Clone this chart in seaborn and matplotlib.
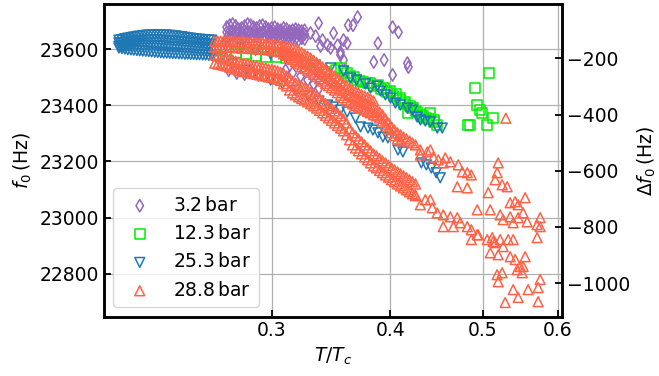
import matplotlib
matplotlib.use('Agg')
import matplotlib.pyplot as plt
import seaborn as sns
from matplotlib.ticker import FormatStrFormatter, NullLocator

# reference frequency for the right-hand axis (Delta f0 = f0 - F_REF)
F_REF = 23767

labels = ['3.2$\\,$bar', '12.3$\\,$bar', '25.3$\\,$bar', '28.8$\\,$bar']
x_ticks = [0.3, 0.4, 0.5, 0.6]
y_ticks = [22800, 23000, 23200, 23400, 23600]
dy_ticks = [-1000, -800, -600, -400, -200]

# T/Tc sample positions shared by the dense bands
t_low = [0.2073, 0.2088, 0.2103, 0.2118, 0.2134, 0.2149, 0.2165, 0.2180, 0.2196, 0.2212, 0.2228,
         0.2244, 0.2261, 0.2277, 0.2294, 0.2310, 0.2327, 0.2344, 0.2361, 0.2378, 0.2396, 0.2413,
         0.2431, 0.2448, 0.2466, 0.2484, 0.2502, 0.2520, 0.2539, 0.2557, 0.2576, 0.2594]
t_mid = [0.2614, 0.2633, 0.2652, 0.2671, 0.2691, 0.2710, 0.2730, 0.2750, 0.2770, 0.2790, 0.2810,
         0.2831, 0.2851, 0.2872, 0.2893, 0.2914, 0.2935, 0.2957, 0.2978, 0.3000, 0.3022, 0.3044,
         0.3066, 0.3088, 0.3111, 0.3133, 0.3156, 0.3179, 0.3202, 0.3226, 0.3249, 0.3273, 0.3297,
         0.3321, 0.3345, 0.3369, 0.3394, 0.3418, 0.3443, 0.3468, 0.3494, 0.3519, 0.3545, 0.3570,
         0.3596, 0.3623, 0.3649, 0.3676, 0.3702, 0.3729, 0.3757, 0.3784, 0.3811, 0.3839, 0.3867,
         0.3895, 0.3923, 0.3952, 0.3981, 0.4010, 0.4039, 0.4068, 0.4098, 0.4128, 0.4158, 0.4188,
         0.4218, 0.4249]
t_purple = t_mid[4:31]

# ---- 3.2 bar (diamonds) ----
purple_band_a = [23678, 23685, 23689, 23682, 23671, 23675, 23682, 23689, 23685, 23678, 23675, 23682, 23685, 23678,
                 23671, 23675, 23678, 23671, 23667, 23675, 23671, 23664, 23667, 23671, 23667, 23664, 23667]
purple_band_b = [23660, 23664, 23667, 23660, 23657, 23660, 23664, 23660, 23657, 23664, 23660, 23657, 23660, 23664,
                 23657, 23660, 23657, 23660, 23657, 23660, 23653, 23657, 23653, 23657, 23653, 23650, 23653]
purple_band_c = [23639, 23643, 23646, 23643, 23639, 23643, 23646, 23643, 23639, 23643, 23646, 23643, 23639, 23643,
                 23646, 23639, 23643, 23646, 23639, 23643, 23639, 23643, 23639, 23636, 23632, 23639, 23636]
purple_extra_x = [0.2704, 0.2757, 0.2810, 0.2864, 0.3103, 0.3156, 0.3218, 0.3273, 0.3321, 0.3364,
                  0.3296, 0.3337, 0.3361, 0.3393, 0.3435, 0.3377, 0.3460, 0.3519, 0.3485, 0.3544, 0.3544, 0.3570,
                  0.3611, 0.3653, 0.3694, 0.3570, 0.3602, 0.3880, 0.3841, 0.3939, 0.4020, 0.4078, 0.4020, 0.4167, 0.4177]
purple_extra_f = [23525, 23515, 23511, 23515, 23525, 23515, 23504, 23490, 23476, 23461,
                  23657, 23646, 23692, 23632, 23614, 23611, 23604, 23614, 23657, 23589, 23579, 23561,
                  23685, 23685, 23714, 23632, 23621, 23621, 23554, 23561, 23678, 23660, 23508, 23550, 23536]

# ---- 12.3 bar (squares) ----
green_x = [0.2620, 0.2684, 0.2750, 0.2817, 0.2886, 0.2957, 0.3029, 0.3103, 0.3179, 0.3257, 0.3337, 0.3418,
           0.3502, 0.3570, 0.3631, 0.3684, 0.3742, 0.3810, 0.3880, 0.3939, 0.4000, 0.4058, 0.4097, 0.4147,
           0.4197, 0.4228, 0.4177, 0.4268, 0.4310, 0.4362, 0.4405, 0.4448, 0.4479,
           0.3545, 0.3600, 0.3660, 0.3720, 0.3784, 0.3840, 0.3910, 0.3970, 0.4030, 0.4090, 0.4130, 0.4200,
           0.4250, 0.4330, 0.4390, 0.4440,
           0.5080, 0.4910, 0.4934, 0.4970, 0.4994, 0.5129, 0.4852, 0.4828, 0.5055]
green_f = [23596, 23593, 23586, 23582, 23575, 23572, 23572, 23568, 23561, 23547, 23533, 23518,
           23525, 23522, 23504, 23490, 23483, 23479, 23472, 23461, 23451, 23440, 23426, 23412,
           23398, 23390, 23373, 23376, 23366, 23355, 23373, 23348, 23330,
           23532, 23515, 23500, 23486, 23478, 23470, 23458, 23447, 23433, 23418, 23405, 23392,
           23380, 23362, 23350, 23340,
           23515, 23461, 23401, 23383, 23373, 23355, 23330, 23330, 23330]

# ---- 25.3 bar (down triangles) ----
blue_band_a = [23632, 23634, 23637, 23639, 23641, 23643, 23645, 23646, 23648, 23649, 23650, 23650, 23650, 23651,
               23650, 23650, 23650, 23649, 23648, 23647, 23645, 23644, 23642, 23640, 23639, 23637, 23636, 23635,
               23634, 23633, 23632, 23632]
blue_band_b = [23622, 23623, 23625, 23626, 23627, 23628, 23629, 23630, 23631, 23632, 23632, 23632, 23632, 23632,
               23631, 23631, 23630, 23630, 23629, 23628, 23627, 23626, 23625, 23624, 23623, 23622, 23621, 23620,
               23619, 23618, 23617, 23616]
blue_band_c = [23610, 23610, 23611, 23612, 23612, 23613, 23613, 23613, 23613, 23613, 23612, 23612, 23612, 23611,
               23611, 23610, 23609, 23608, 23607, 23606, 23606, 23605, 23604, 23603, 23602, 23601, 23600, 23599,
               23598, 23597, 23596, 23595]
blue_band_d = [23604, 23602, 23600, 23598, 23597, 23596, 23595, 23594, 23593, 23592, 23591, 23590, 23589, 23588,
               23587, 23586, 23586, 23585, 23584, 23584, 23583, 23583, 23582, 23582, 23581, 23581, 23580, 23580,
               23579, 23579, 23578, 23578]
blue_branch_x = [0.2684, 0.2783, 0.2886, 0.2993, 0.3103, 0.3218, 0.3337, 0.3460, 0.3570, 0.3631, 0.3684, 0.3765,
                 0.3810, 0.3875, 0.3904, 0.3951, 0.4000, 0.4048, 0.4097, 0.4167, 0.4217, 0.4268, 0.4300, 0.4352,
                 0.4405, 0.4479, 0.4534,
                 0.2652, 0.2728, 0.2817, 0.2907, 0.2993, 0.3081, 0.3179, 0.3280, 0.3364, 0.3435, 0.3485, 0.3544,
                 0.3602, 0.3675, 0.3720, 0.3788, 0.3834, 0.3880, 0.3927, 0.3975, 0.4073, 0.4122, 0.4310, 0.4362,
                 0.4415, 0.4468, 0.4512]
blue_branch_f = [23611, 23604, 23596, 23582, 23568, 23554, 23543, 23533, 23522, 23497, 23490, 23476,
                 23461, 23468, 23451, 23437, 23426, 23408, 23401, 23390, 23383, 23358, 23348, 23344,
                 23341, 23319, 23319,
                 23568, 23547, 23525, 23504, 23490, 23476, 23454, 23433, 23415, 23401, 23394, 23383,
                 23376, 23355, 23323, 23319, 23312, 23302, 23287, 23284, 23241, 23234, 23195, 23188,
                 23177, 23160, 23142]

# ---- 28.8 bar (up triangles) ----
red_upper_a = [23628, 23628, 23628, 23628, 23628, 23628, 23628, 23627, 23626, 23626, 23625, 23625, 23624, 23623,
               23622, 23622, 23621, 23620, 23618, 23617, 23616, 23615, 23611, 23611, 23609, 23605, 23602, 23598,
               23593, 23588, 23581, 23575, 23568, 23560, 23552, 23544, 23536, 23528, 23520, 23512, 23504, 23495,
               23485, 23476, 23469, 23460, 23454, 23449, 23444, 23438, 23433, 23428, 23422, 23416]
red_upper_b = [23607, 23607, 23607, 23607, 23607, 23607, 23607, 23605, 23605, 23604, 23604, 23604, 23602, 23602,
               23601, 23600, 23600, 23599, 23597, 23595, 23594, 23593, 23590, 23583, 23577, 23570, 23563, 23555,
               23547, 23538, 23531, 23525, 23518, 23510, 23502, 23494, 23486, 23478, 23470, 23462, 23454, 23445,
               23436, 23427, 23419, 23411, 23405, 23399, 23394, 23389, 23383, 23378, 23373, 23366]
red_upper_c = [23597, 23593, 23588, 23582, 23577, 23570, 23563, 23556, 23550, 23543, 23535, 23527, 23519, 23511,
               23503, 23495, 23487, 23479, 23470, 23460, 23452, 23444, 23436, 23430, 23424, 23419, 23414, 23408,
               23403, 23398, 23391]
red_upper_tail = [23383, 23376, 23366, 23351, 23337, 23323, 23312, 23302, 23295, 23287, 23280, 23273, 23266, 23259]
red_upper_tail2 = [23362, 23355, 23344, 23330, 23316, 23302, 23291, 23280, 23273]
red_lower_a = [23579, 23575, 23573, 23572, 23568, 23564, 23561, 23557, 23554, 23550, 23548, 23547, 23543, 23541,
               23540, 23536, 23534, 23533, 23529, 23527, 23525, 23522, 23517, 23513, 23504, 23497, 23486, 23479,
               23472, 23467, 23461, 23454, 23447, 23440, 23433, 23424, 23415, 23406, 23398, 23389, 23380, 23371,
               23362, 23351, 23337, 23316, 23302, 23291, 23280, 23270, 23259, 23248, 23238, 23227, 23220, 23211,
               23202, 23195, 23186, 23177, 23170, 23163, 23156, 23149, 23142, 23135, 23128, 23120]
red_lower_b = [23550, 23547, 23545, 23543, 23540, 23536, 23533, 23529, 23525, 23522, 23520, 23518, 23515, 23513,
               23511, 23508, 23506, 23504, 23501, 23499, 23497, 23493, 23488, 23477, 23469, 23454, 23444, 23437,
               23430, 23424, 23419, 23412, 23405, 23398, 23390, 23382, 23373, 23364, 23355, 23346, 23337, 23328,
               23319, 23309, 23295, 23277, 23259, 23248, 23238, 23227, 23216, 23206, 23195, 23184, 23177, 23168,
               23160, 23152, 23144, 23135, 23128, 23120, 23113, 23106, 23099, 23092, 23085, 23078]
red_extra_x = [0.4300, 0.4373, 0.4437, 0.4490, 0.4545, 0.4623, 0.4713, 0.4759, 0.4817, 0.4864, 0.4702, 0.4817,
               0.4405, 0.4300, 0.4567,
               0.4300, 0.4405, 0.4426, 0.4479, 0.4545, 0.4623, 0.4702, 0.4736, 0.4817, 0.4864, 0.4946, 0.4545,
               0.4657, 0.4864, 0.4934, 0.4248, 0.4352,
               0.5288, 0.4934, 0.5067, 0.5092, 0.5153, 0.5178, 0.5191, 0.5241, 0.5305, 0.5344, 0.5409, 0.5448,
               0.5541, 0.5216, 0.5254, 0.5344, 0.5383, 0.5448, 0.5514, 0.5568, 0.5746, 0.5746, 0.5704, 0.5055,
               0.5129, 0.5216, 0.5117, 0.5153, 0.5092, 0.5191, 0.5254, 0.5318, 0.5383, 0.5344, 0.5409, 0.5474,
               0.5541, 0.5435, 0.5501, 0.5514, 0.5178, 0.5191, 0.5241, 0.5383, 0.5448, 0.5581, 0.5718, 0.5746,
               0.5718, 0.5279, 0.5704]
red_extra_f = [23241, 23234, 23216, 23206, 23195, 23199, 23188, 23163, 23160, 23152, 23110, 23106,
               23241, 23223, 23213,
               23046, 23064, 23035, 23017, 23010, 23003, 23000, 22982, 22968, 22957, 22939, 22968,
               22968, 22922, 22939, 23081, 23064,
               23354, 23028, 23089, 23028, 23135, 23160, 23195, 23117, 23110, 23053, 23057, 23046,
               23071, 23010, 22993, 23003, 22982, 23000, 23017, 22985, 23000, 22968, 22929, 22922,
               22915, 22922, 22929, 22911, 22875, 22868, 22897, 22922, 22922, 22861, 22851, 22826,
               22861, 22815, 22804, 22826, 22797, 22772, 22804, 22744, 22716, 22744, 22751, 22780,
               22701, 22698, 22975]

purple_x = t_purple * 3 + purple_extra_x
purple_f = purple_band_a + purple_band_b + purple_band_c + purple_extra_f
blue_x = t_low * 4 + blue_branch_x
blue_f = blue_band_a + blue_band_b + blue_band_c + blue_band_d + blue_branch_f
red_x = (t_mid[:54] * 2 + t_mid[23:54] + t_mid[54:] + t_mid[54:63]
         + t_mid * 2 + red_extra_x)
red_f = (red_upper_a + red_upper_b + red_upper_c + red_upper_tail + red_upper_tail2
         + red_lower_a + red_lower_b + red_extra_f)

sns.set_style('ticks')
plt.rcParams.update({
    'font.size': 13.5,
    'axes.linewidth': 1.8,
    'axes.edgecolor': 'black',
    'text.color': 'black',
    'axes.labelcolor': 'black',
    'xtick.color': 'black',
    'ytick.color': 'black',
})

fig = plt.figure(figsize=(6.59, 3.76), dpi=100)
ax = fig.add_axes([0.158, 0.158, 0.695, 0.831])

series = [
    (purple_x, purple_f, 'd', '#9467bd', 40),
    (green_x, green_f, 's', '#00ee00', 50),
    (blue_x, blue_f, 'v', '#1f77b4', 50),
    (red_x, red_f, '^', '#ff6347', 50),
]
for (xs, fs, mk, col, size), lab in zip(series, labels):
    sns.scatterplot(x=xs, y=fs, marker=mk, s=size, color=col, facecolor='none',
                    edgecolor=col, linewidth=1.1, label=lab, ax=ax)

ax.set_xscale('log')
ax.set_xlim(0.2, 0.606)
ax.set_ylim(22648, 23760)
ax.set_xticks(x_ticks)
ax.xaxis.set_major_formatter(FormatStrFormatter('%g'))
ax.xaxis.set_minor_locator(NullLocator())
ax.set_yticks(y_ticks)
ax.grid(True, color='#b0b0b0', lw=0.9)
ax.set_axisbelow(True)
ax.tick_params(direction='in', length=5, width=1.3)
ax.set_xlabel(r'$T/T_c$')
ax.set_ylabel(r'$f_0\,$(Hz)')

ax2 = ax.twinx()
lo, hi = ax.get_ylim()
ax2.set_ylim(lo - F_REF, hi - F_REF)
ax2.set_yticks(dy_ticks)
ax2.tick_params(direction='in', length=5, width=1.3)
ax2.set_ylabel(r'$\Delta f_0\,$(Hz)')

ax.legend(loc='lower left', fontsize=13.5)

fig.savefig('out.png', dpi=100)
